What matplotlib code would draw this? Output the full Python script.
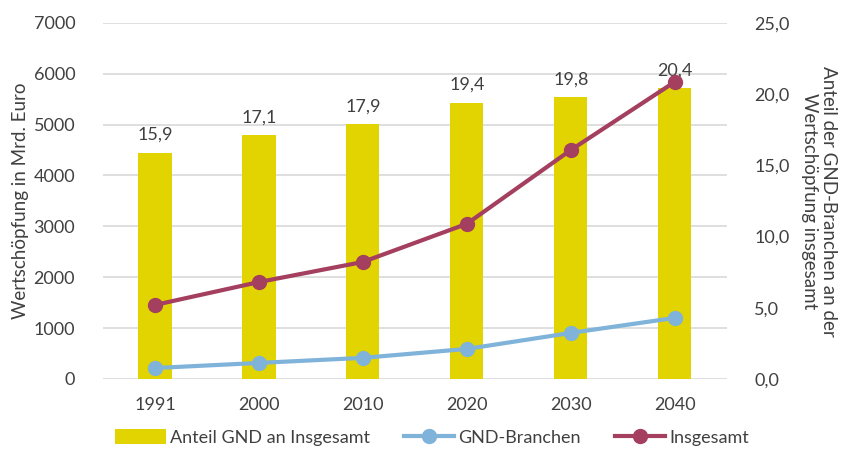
import matplotlib
matplotlib.use('Agg')
import matplotlib.pyplot as plt
import numpy as np

plt.rcParams['font.family'] = ['Lato', 'DejaVu Sans']

years = ['1991', '2000', '2010', '2020', '2030', '2040']
anteil_gnd = [15.9, 17.1, 17.9, 19.4, 19.8, 20.4]
gnd_branchen = [215, 315, 415, 590, 905, 1200]
insgesamt = [1455, 1905, 2300, 3050, 4500, 5840]

text_col = '#404040'
bar_col = '#E2D400'
gnd_col = '#7FB3DA'
ges_col = '#A43F5F'

fig = plt.figure(figsize=(8.44, 4.49), dpi=100)
ax = fig.add_axes([0.122, 0.156, 0.739, 0.793])
x = np.arange(len(years))

# left axis: grid + ticks
ax.set_ylim(0, 7000)
ax.set_yticks(range(0, 7001, 1000))
ax.set_xlim(-0.5, len(years) - 0.5)
ax.set_xticks(x)
ax.set_xticklabels(years)
ax.yaxis.grid(True, color='#D9D9D9', linewidth=1.2)
ax.set_axisbelow(True)
ax.tick_params(length=0, labelsize=13, colors=text_col, pad=13)
ax.tick_params(axis='y', pad=20)
for s in ax.spines.values():
    s.set_visible(False)
ax.set_ylabel('Wertschöpfung in Mrd. Euro', fontsize=13.5, color=text_col, labelpad=3)

# right axis: bars
ax2 = ax.twinx()
bars = ax2.bar(x, anteil_gnd, width=0.32, color=bar_col, label='Anteil GND an Insgesamt')
ax2.set_ylim(0, 25)

# lines on top, sharing the left scale
ax3 = ax2.twinx()
ax3.set_ylim(0, 7000)
ax3.yaxis.set_visible(False)
for s in ax3.spines.values():
    s.set_visible(False)
l1, = ax3.plot(x, gnd_branchen, color=gnd_col, lw=3, marker='o', ms=10, label='GND-Branchen')
l2, = ax3.plot(x, insgesamt, color=ges_col, lw=3, marker='o', ms=10, label='Insgesamt')

ax2.yaxis.tick_right()
ax2.yaxis.set_label_position('right')
ax2.set_yticks(range(0, 26, 5))
ax2.set_yticklabels([f'{v:.1f}'.replace('.', ',') for v in range(0, 26, 5)])
ax2.tick_params(length=0, labelsize=13, colors=text_col, pad=20)
for s in ax2.spines.values():
    s.set_visible(False)
ax2.bar_label(bars, labels=[f'{v:.1f}'.replace('.', ',') for v in anteil_gnd],
              padding=7, fontsize=13, color=text_col)
ax2.set_ylabel('Anteil der GND-Branchen an der\nWertschöpfung insgesamt', fontsize=13.5,
               color=text_col, rotation=-90, labelpad=34, linespacing=1.15)

leg = fig.legend(handles=[bars, l1, l2], loc='center', bbox_to_anchor=(0.512, 0.026),
                 ncol=3, frameon=False, fontsize=13, handlelength=2.8, columnspacing=1.9,
                 handletextpad=0.2, handleheight=0.9)
for t in leg.get_texts():
    t.set_color(text_col)

fig.savefig('out.png', dpi=100)
